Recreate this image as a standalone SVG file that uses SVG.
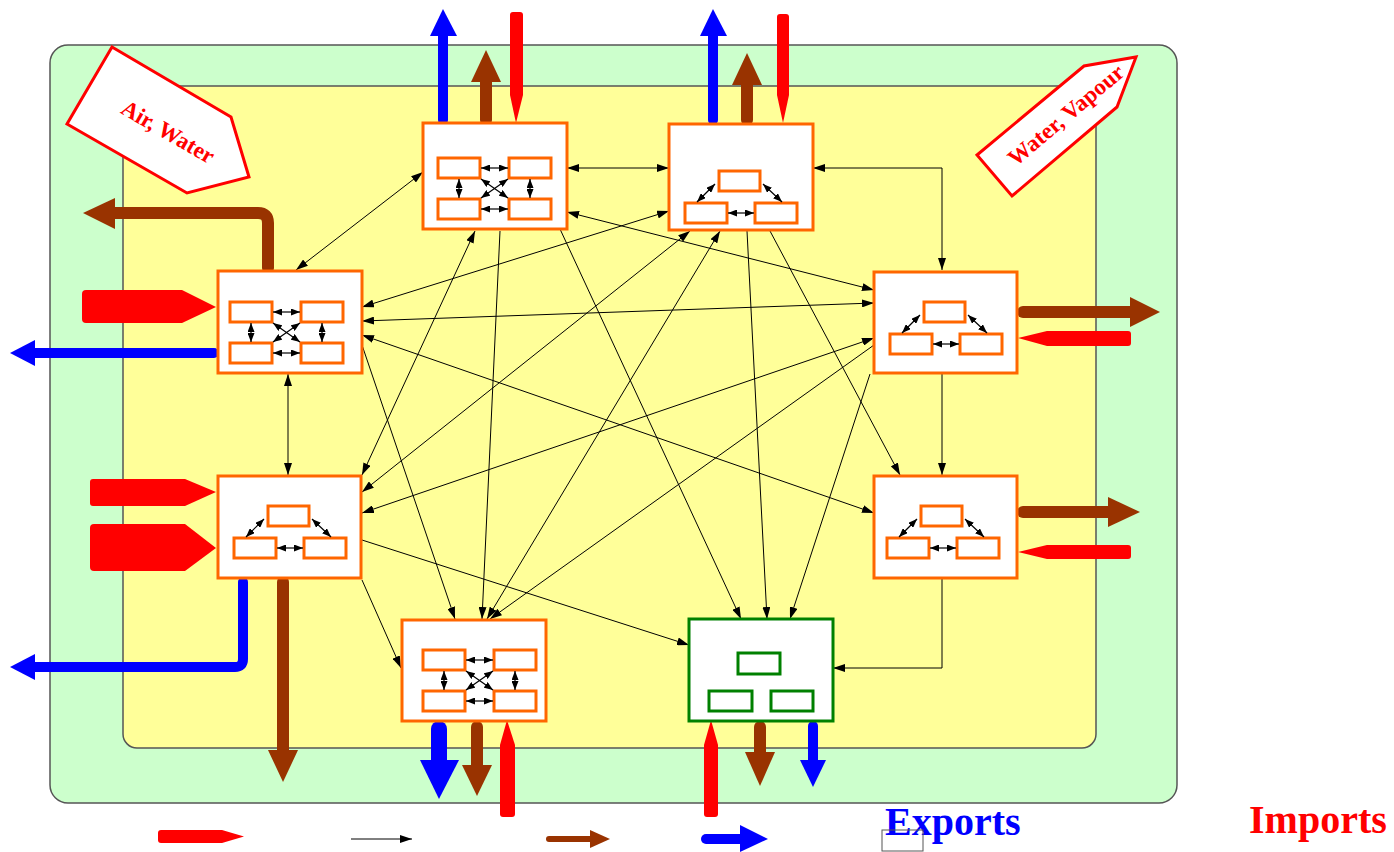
<svg xmlns="http://www.w3.org/2000/svg" xmlns:xlink="http://www.w3.org/1999/xlink" width="1394" height="852" viewBox="0 0 1394 852">
  <defs>
    <style>
      .frame-outer { fill: #CCFFCC; stroke: #555555; stroke-width: 1.5; }
      .frame-inner { fill: #FFFF99; stroke: #555555; stroke-width: 1.5; }
      .node { fill: #FFFFFF; stroke: #FF6600; stroke-width: 3; }
      .node-green { fill: #FFFFFF; stroke: #008000; stroke-width: 3; }
      .box { fill: #FFFFFF; stroke: #FF6600; stroke-width: 3; }
      .box-green { fill: #FFFFFF; stroke: #008000; stroke-width: 3; }
      .link { fill: none; stroke: #000000; stroke-width: 1; }
      .inner { fill: none; stroke: #000000; stroke-width: 1.2; }
      .red { fill: #FF0000; }
      .blue { fill: #0000FF; }
      .brown { fill: #993300; }
      .shaft-blue { fill: none; stroke: #0000FF; stroke-linecap: round; stroke-linejoin: round; }
      .shaft-brown { fill: none; stroke: #993300; stroke-linecap: round; stroke-linejoin: round; }
      .tag { fill: #FFFFFF; stroke: #FF0000; stroke-width: 3; stroke-linejoin: miter; }
      .tag-text { font-family: "Liberation Serif", serif; font-weight: bold; font-size: 23px; fill: #FF0000; }
      .legend-text { font-family: "Liberation Serif", serif; font-weight: bold; font-size: 40px; }
    </style>
    <marker id="ah" viewBox="0 0 12 8" refX="12" refY="4" markerWidth="12" markerHeight="8" markerUnits="userSpaceOnUse" orient="auto-start-reverse">
      <path d="M0,0 L12,4 L0,8 z" fill="#000000"/>
    </marker>
    <marker id="ahs" viewBox="0 0 9 7" refX="9" refY="3.5" markerWidth="9" markerHeight="7" markerUnits="userSpaceOnUse" orient="auto-start-reverse">
      <path d="M0,0 L9,3.5 L0,7 z" fill="#000000"/>
    </marker>
    <!-- four sub-boxes, fully interlinked -->
    <g id="quad">
      <rect class="box" x="0" y="0" width="42" height="20"/>
      <rect class="box" x="71" y="0" width="42" height="20"/>
      <rect class="box" x="0" y="41" width="42" height="20"/>
      <rect class="box" x="71" y="41" width="42" height="20"/>
      <line class="inner" x1="43" y1="10" x2="70" y2="10" marker-start="url(#ahs)" marker-end="url(#ahs)"/>
      <line class="inner" x1="43" y1="51" x2="70" y2="51" marker-start="url(#ahs)" marker-end="url(#ahs)"/>
      <line class="inner" x1="21" y1="21" x2="21" y2="40" marker-start="url(#ahs)" marker-end="url(#ahs)"/>
      <line class="inner" x1="92" y1="21" x2="92" y2="40" marker-start="url(#ahs)" marker-end="url(#ahs)"/>
      <line class="inner" x1="43" y1="21" x2="70" y2="40" marker-start="url(#ahs)" marker-end="url(#ahs)"/>
      <line class="inner" x1="70" y1="21" x2="43" y2="40" marker-start="url(#ahs)" marker-end="url(#ahs)"/>
    </g>
    <!-- three sub-boxes in a triangle -->
    <g id="tri">
      <rect class="box" x="34" y="0" width="41" height="20"/>
      <rect class="box" x="0" y="32" width="42" height="20"/>
      <rect class="box" x="70" y="32" width="42" height="20"/>
      <line class="inner" x1="30" y1="13" x2="12" y2="31" marker-start="url(#ahs)" marker-end="url(#ahs)"/>
      <line class="inner" x1="78" y1="13" x2="97" y2="31" marker-start="url(#ahs)" marker-end="url(#ahs)"/>
      <line class="inner" x1="43" y1="42" x2="69" y2="42" marker-start="url(#ahs)" marker-end="url(#ahs)"/>
    </g>
  </defs>

  <!-- boundary frames -->
  <rect class="frame-outer" x="50" y="45" width="1127" height="758" rx="18" ry="18"/>
  <rect class="frame-inner" x="123" y="86" width="973" height="662" rx="14" ry="14"/>

  <!-- labels on the boundary -->
  <g id="tag-air-water">
    <polygon class="tag" points="112,47 231,117 249,177 187,193 67,124"/>
    <text class="tag-text" x="168" y="132" text-anchor="middle" dominant-baseline="central" transform="rotate(30 168 132)">Air, Water</text>
  </g>
  <g id="tag-water-vapour">
    <polygon class="tag" points="1136,57 1117,107 1012,196 977,155 1084,66"/>
    <text class="tag-text" x="1066" y="115" text-anchor="middle" dominant-baseline="central" transform="rotate(-40 1066 115)">Water, Vapour</text>
  </g>

  <!-- thin interconnections between the units -->
  <g id="connectors">
    <line class="link" x1="567" y1="168" x2="669" y2="168" marker-start="url(#ah)" marker-end="url(#ah)"/>
    <line class="link" x1="423" y1="172" x2="296" y2="270" marker-start="url(#ah)" marker-end="url(#ah)"/>
    <line class="link" x1="567" y1="212" x2="874" y2="290" marker-start="url(#ah)" marker-end="url(#ah)"/>
    <line class="link" x1="669" y1="211" x2="362" y2="307" marker-start="url(#ah)" marker-end="url(#ah)"/>
    <line class="link" x1="874" y1="303" x2="362" y2="321" marker-start="url(#ah)" marker-end="url(#ah)"/>
    <line class="link" x1="362" y1="335" x2="874" y2="513" marker-start="url(#ah)" marker-end="url(#ah)"/>
    <line class="link" x1="362" y1="345" x2="455" y2="619" marker-end="url(#ah)"/>
    <line class="link" x1="560" y1="229" x2="741" y2="619" marker-end="url(#ah)"/>
    <line class="link" x1="475" y1="231" x2="362" y2="475" marker-start="url(#ah)" marker-end="url(#ah)"/>
    <line class="link" x1="690" y1="231" x2="362" y2="492" marker-start="url(#ah)" marker-end="url(#ah)"/>
    <line class="link" x1="874" y1="338" x2="362" y2="513" marker-start="url(#ah)" marker-end="url(#ah)"/>
    <line class="link" x1="362" y1="540" x2="689" y2="645" marker-end="url(#ah)"/>
    <line class="link" x1="362" y1="580" x2="401" y2="668" marker-end="url(#ah)"/>
    <line class="link" x1="500" y1="231" x2="482" y2="619" marker-end="url(#ah)"/>
    <line class="link" x1="720" y1="231" x2="487" y2="619" marker-start="url(#ah)" marker-end="url(#ah)"/>
    <line class="link" x1="874" y1="345" x2="490" y2="619" marker-end="url(#ah)"/>
    <line class="link" x1="747" y1="231" x2="767" y2="619" marker-end="url(#ah)"/>
    <line class="link" x1="870" y1="374" x2="790" y2="619" marker-end="url(#ah)"/>
    <line class="link" x1="770" y1="231" x2="900" y2="475" marker-end="url(#ah)"/>
    <line class="link" x1="288" y1="374" x2="288" y2="475" marker-start="url(#ah)" marker-end="url(#ah)"/>
    <line class="link" x1="942" y1="374" x2="942" y2="475" marker-end="url(#ah)"/>
    <polyline class="link" points="813,168 942,168 942,270" marker-start="url(#ah)" marker-end="url(#ah)"/>
    <polyline class="link" points="942,578 942,668 833,668" marker-end="url(#ah)"/>
  </g>

  <!-- exchange flows across the boundary -->
  <g id="flows">
    <!-- unit 1, top -->
    <line class="shaft-blue" x1="443" y1="120" x2="443" y2="34" stroke-width="10"/>
    <polygon class="blue" points="430,36 457,36 443,9"/>
    <line class="shaft-brown" x1="486" y1="120" x2="486" y2="80" stroke-width="12"/>
    <polygon class="brown" points="471,82 501,82 486,50"/>
    <path class="red" d="M510,15 Q510,12 513,12 L520,12 Q523,12 523,15 L523,95 L516,123 L510,95 Z"/>
    <!-- unit 2, top -->
    <line class="shaft-blue" x1="713" y1="120" x2="713" y2="34" stroke-width="10"/>
    <polygon class="blue" points="700,36 727,36 713,9"/>
    <line class="shaft-brown" x1="747" y1="120" x2="747" y2="82" stroke-width="12"/>
    <polygon class="brown" points="732,85 762,85 747,53"/>
    <path class="red" d="M777,17 Q777,14 780,14 L786,14 Q789,14 789,17 L789,95 L783,123 L777,95 Z"/>
    <!-- unit 3, left -->
    <path class="shaft-brown" d="M268,268 L268,223 Q268,213 258,213 L113,213" stroke-width="12"/>
    <polygon class="brown" points="115,198 115,229 83,213"/>
    <path class="red" d="M86,290 L182,290 L216,307 L182,323 L86,323 Q82,323 82,319 L82,294 Q82,290 86,290 Z"/>
    <line class="shaft-blue" x1="214" y1="353" x2="33" y2="353" stroke-width="10"/>
    <polygon class="blue" points="35,340 35,366 10,353"/>
    <!-- unit 5, left -->
    <path class="red" d="M93,479 L185,479 L216,492 L185,506 L93,506 Q90,506 90,503 L90,482 Q90,479 93,479 Z"/>
    <path class="red" d="M94,524 L185,524 L216,548 L185,571 L94,571 Q90,571 90,567 L90,528 Q90,524 94,524 Z"/>
    <path class="shaft-blue" d="M243,582 L243,659 Q243,667 235,667 L33,667" stroke-width="10"/>
    <polygon class="blue" points="35,654 35,680 10,667"/>
    <line class="shaft-brown" x1="283" y1="582" x2="283" y2="752" stroke-width="12"/>
    <polygon class="brown" points="268,750 298,750 283,782"/>
    <!-- unit 7, bottom -->
    <line class="shaft-blue" x1="439" y1="729" x2="439" y2="762" stroke-width="16"/>
    <polygon class="blue" points="420,760 459,760 439,799"/>
    <line class="shaft-brown" x1="477" y1="727" x2="477" y2="767" stroke-width="12"/>
    <polygon class="brown" points="462,765 492,765 477,796"/>
    <path class="red" d="M500,745 L507,720 L515,745 L515,814 Q515,817 512,817 L503,817 Q500,817 500,814 Z"/>
    <!-- unit 8, bottom -->
    <path class="red" d="M704,745 L711,720 L718,745 L718,814 Q718,817 715,817 L707,817 Q704,817 704,814 Z"/>
    <line class="shaft-brown" x1="760" y1="727" x2="760" y2="755" stroke-width="12"/>
    <polygon class="brown" points="745,752 775,752 760,786"/>
    <line class="shaft-blue" x1="813" y1="726" x2="813" y2="762" stroke-width="10"/>
    <polygon class="blue" points="800,760 826,760 813,787"/>
    <!-- unit 4, right -->
    <line class="shaft-brown" x1="1023" y1="312" x2="1132" y2="312" stroke-width="12"/>
    <polygon class="brown" points="1130,297 1130,327 1160,312"/>
    <path class="red" d="M1018,338 L1047,331 L1128,331 Q1131,331 1131,334 L1131,343 Q1131,346 1128,346 L1047,346 Z"/>
    <!-- unit 6, right -->
    <line class="shaft-brown" x1="1023" y1="512" x2="1110" y2="512" stroke-width="12"/>
    <polygon class="brown" points="1108,497 1108,527 1140,512"/>
    <path class="red" d="M1018,552 L1047,545 L1128,545 Q1131,545 1131,548 L1131,556 Q1131,559 1128,559 L1047,559 Z"/>
  </g>

  <!-- process units -->
  <g id="unit-1">
    <rect class="node" x="423" y="123" width="144" height="106"/>
    <use xlink:href="#quad" href="#quad" x="438" y="158"/>
  </g>
  <g id="unit-2">
    <rect class="node" x="669" y="124" width="144" height="106"/>
    <use xlink:href="#tri" href="#tri" x="685" y="171"/>
  </g>
  <g id="unit-3">
    <rect class="node" x="218" y="271" width="144" height="102"/>
    <use xlink:href="#quad" href="#quad" x="230" y="302"/>
  </g>
  <g id="unit-4">
    <rect class="node" x="874" y="272" width="143" height="101"/>
    <use xlink:href="#tri" href="#tri" x="890" y="302"/>
  </g>
  <g id="unit-5">
    <rect class="node" x="218" y="476" width="143" height="102"/>
    <use xlink:href="#tri" href="#tri" x="234" y="506"/>
  </g>
  <g id="unit-6">
    <rect class="node" x="874" y="476" width="143" height="102"/>
    <use xlink:href="#tri" href="#tri" x="887" y="506"/>
  </g>
  <g id="unit-7">
    <rect class="node" x="402" y="620" width="144" height="101"/>
    <use xlink:href="#quad" href="#quad" x="423" y="650"/>
  </g>
  <g id="unit-8">
    <rect class="node-green" x="689" y="619" width="144" height="102"/>
    <rect class="box-green" x="738" y="653" width="42" height="21"/>
    <rect class="box-green" x="709" y="691" width="43" height="20"/>
    <rect class="box-green" x="771" y="691" width="42" height="20"/>
  </g>

  <!-- key -->
  <g id="legend">
    <path class="red" d="M161,830 L222,830 L244,836.5 L222,843 L161,843 Q158,843 158,840 L158,833 Q158,830 161,830 Z"/>
    <line class="link" x1="351" y1="839" x2="412" y2="839" marker-end="url(#ah)"/>
    <line class="shaft-brown" x1="549" y1="839" x2="592" y2="839" stroke-width="6"/>
    <polygon class="brown" points="590,830 590,848 610,839"/>
    <line class="shaft-blue" x1="706" y1="839" x2="742" y2="839" stroke-width="10"/>
    <polygon class="blue" points="740,825 740,852 768,839"/>
    <text class="legend-text" x="885" y="835" fill="#0000FF">Exports</text>
    <text class="legend-text" x="1249" y="833" fill="#FF0000">Imports</text>
    <rect x="882" y="830" width="41" height="21" fill="none" stroke="#555555" stroke-width="1"/>
  </g>
</svg>
